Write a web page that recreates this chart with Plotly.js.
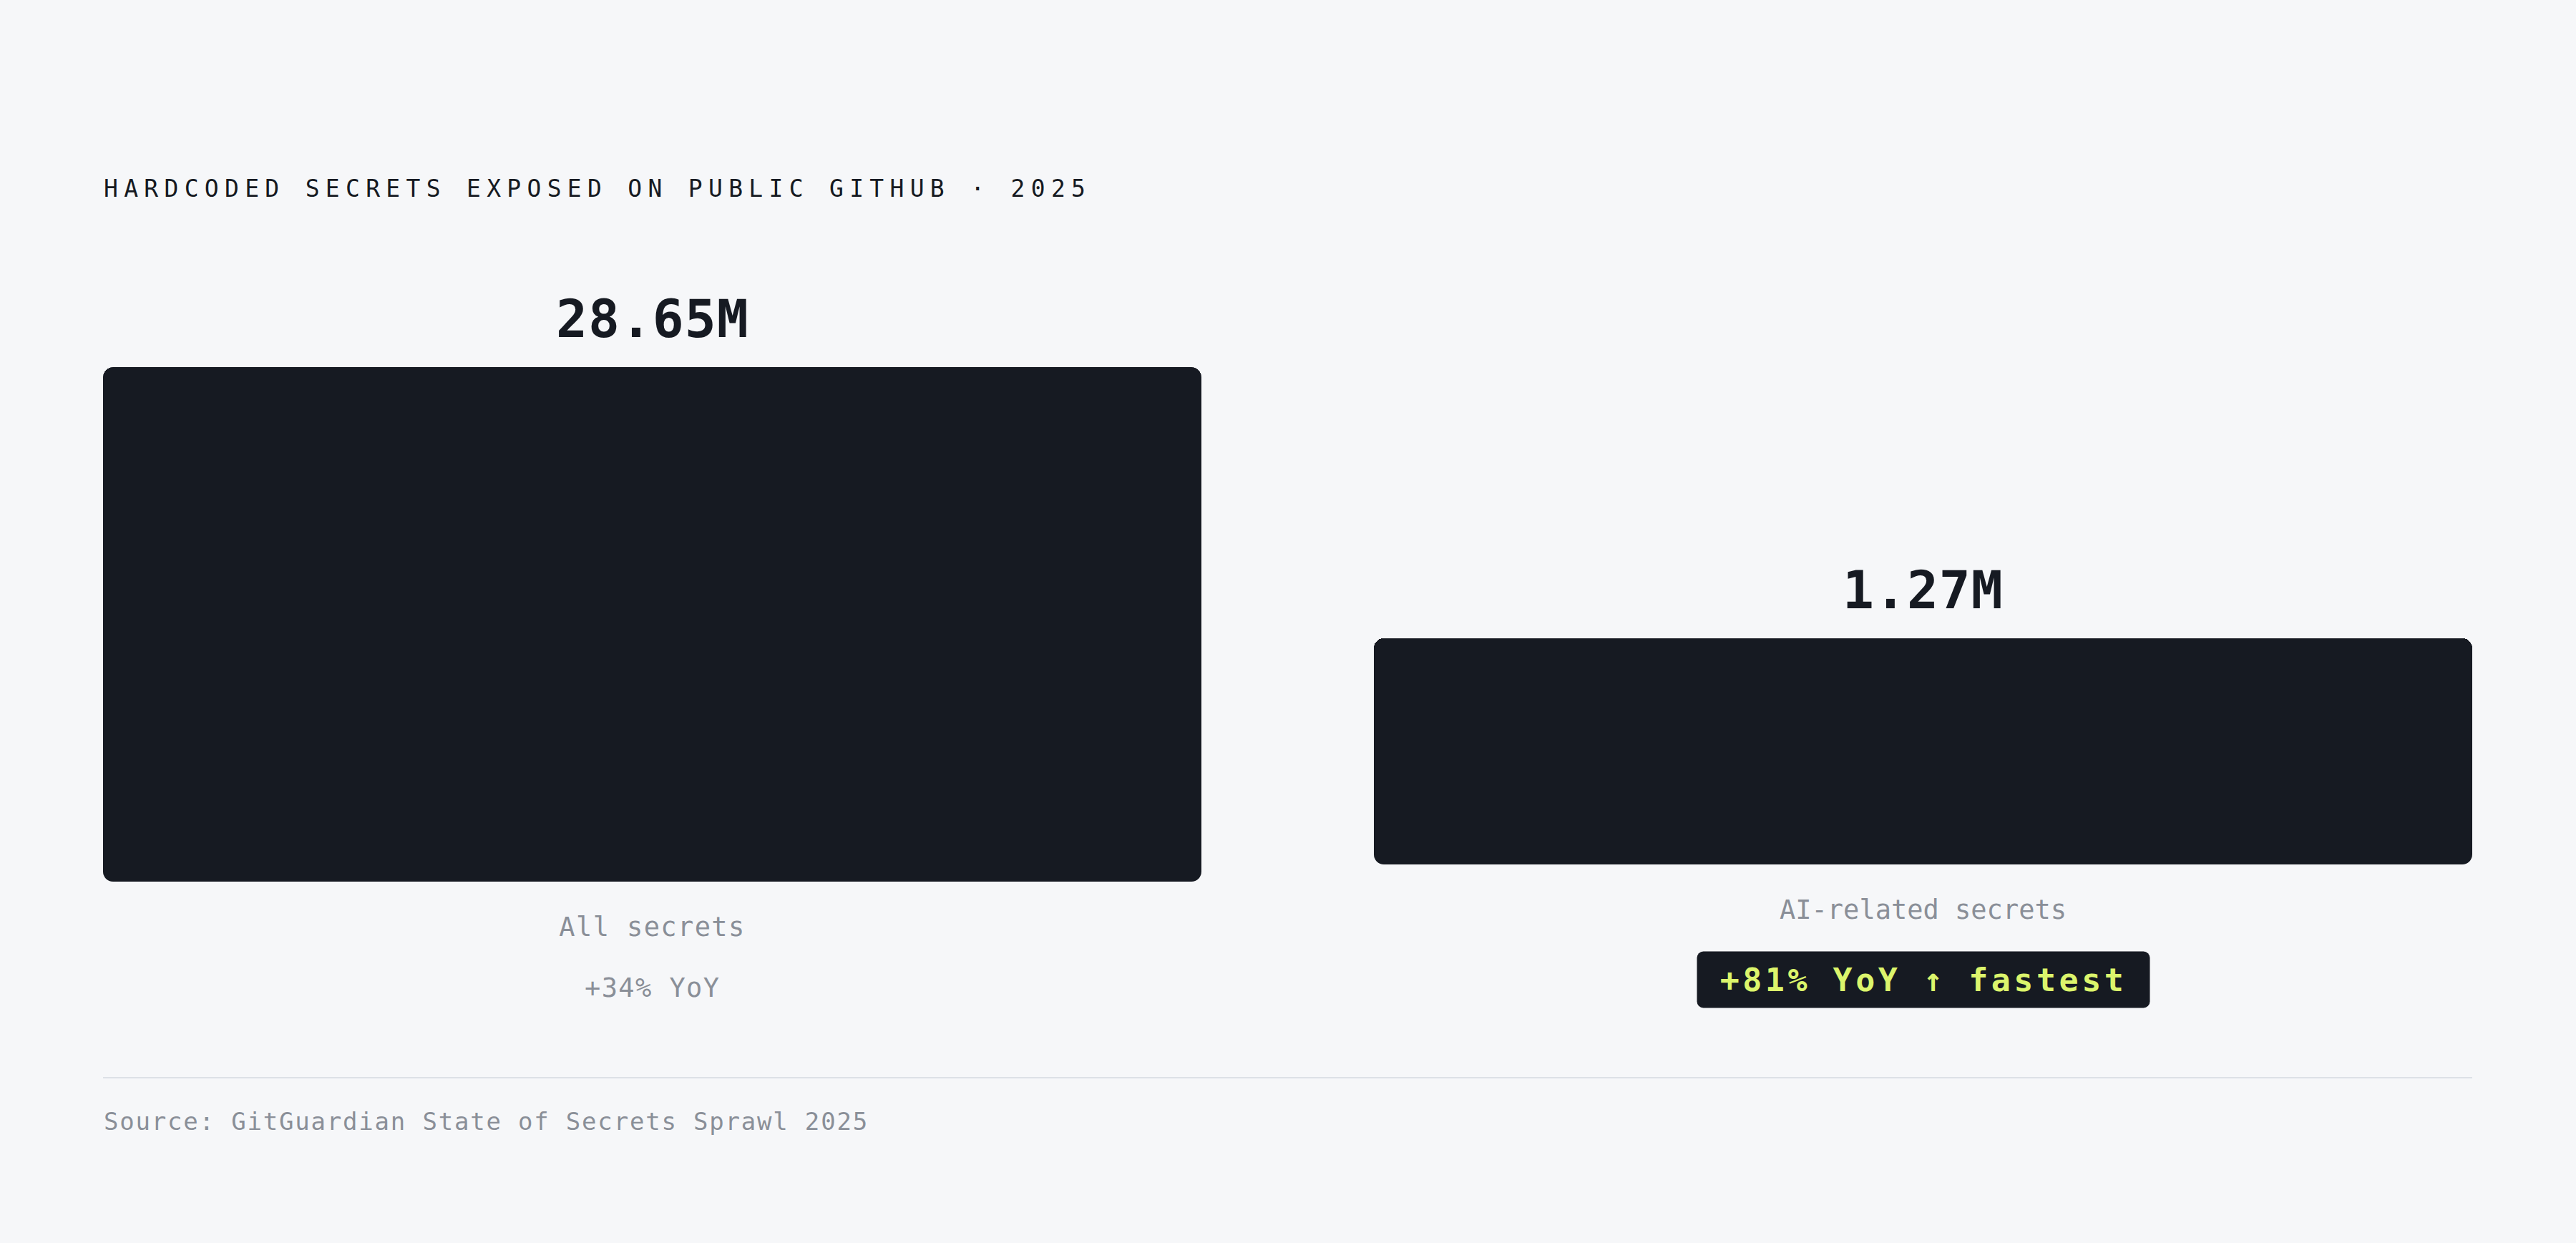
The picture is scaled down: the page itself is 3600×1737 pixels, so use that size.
<!DOCTYPE html>
<html>
<head>
<meta charset="utf-8">
<script src="https://cdn.plot.ly/plotly-3.0.1.min.js"></script>
<style>
  html, body { margin: 0; padding: 0; background: #f6f7f9; }
  /* round the bottom corners of each bar through its subplot clip */
  .clips rect { rx: 14px; ry: 14px; }
  .annotation .bg { rx: 9px; ry: 9px; }
  .xtick text { letter-spacing: 1.4px; }
</style>
</head>
<body>
<div id="chart"></div>
<script>
// Hardcoded secrets exposed on public GitHub, 2025
var categories = ['All secrets', 'AI-related secrets'];
var secrets = [28650000, 1270000];
var yoy_growth = [34, 81];

var chart_title = 'HARDCODED SECRETS EXPOSED ON PUBLIC GITHUB · 2025';
var source_note = 'Source: GitGuardian State of Secrets Sprawl 2025';

var W = 3600, H = 1737;
var FONT = '"DejaVu Sans Mono", monospace';
var DARK = '#161a22', GRAY = '#8a8f98', LIME = '#dcf56c';

function px(x) { return x / W; }
function py(y) { return 1 - y / H; }
function spaced(t, s) { return '<span style="letter-spacing:' + s + 'px">' + t + '</span>'; }

// one subplot per bar, same log scale for both
var log_range = [Math.log10(1.1e5), Math.log10(Math.max.apply(null, secrets))];
var x_domains = [[px(144), px(1679)], [px(1920), px(3455)]];
var y_domains = [[py(1232), py(513)], [py(1208), py(489)]];
var fastest = yoy_growth.indexOf(Math.max.apply(null, yoy_growth));

var data = [];
var annotations = [];
var layout = {
  width: W, height: H,
  margin: {l: 0, r: 0, t: 0, b: 0},
  paper_bgcolor: '#f6f7f9',
  plot_bgcolor: 'rgba(0,0,0,0)',
  showlegend: false,
  bargap: 0,
  font: {family: FONT, color: DARK},
  title: {
    text: spaced(chart_title, 8.3),
    font: {family: FONT, size: 33, color: DARK},
    xref: 'paper', x: px(145), xanchor: 'left',
    yref: 'container', y: py(263), yanchor: 'middle'
  },
  shapes: [{
    type: 'line', xref: 'paper', yref: 'paper',
    x0: px(144), x1: px(3455), y0: py(1506), y1: py(1506),
    line: {color: '#dde1e7', width: 2}
  }]
};

for (var i = 0; i < secrets.length; i++) {
  var n = i === 0 ? '' : String(i + 1);
  data.push({
    type: 'bar',
    x: [categories[i]],
    y: [secrets[i]],
    xaxis: 'x' + n, yaxis: 'y' + n,
    marker: {color: DARK, cornerradius: 14},
    hoverinfo: 'skip'
  });
  layout['xaxis' + n] = {
    domain: x_domains[i], anchor: 'y' + n,
    type: 'category', range: [-0.5, 0.5],
    showgrid: false, zeroline: false, showline: false, ticks: '',
    ticklabelstandoff: 38,
    tickfont: {family: FONT, size: 37, color: GRAY},
    fixedrange: true
  };
  layout['yaxis' + n] = {
    domain: y_domains[i], anchor: 'x' + n,
    type: 'log', range: log_range, autorange: false,
    visible: false, fixedrange: true
  };

  // value above the bar
  annotations.push({
    xref: 'x' + n, yref: 'y' + n, x: 0, y: Math.log10(secrets[i]),
    xanchor: 'center', yanchor: 'bottom', yshift: 23, showarrow: false,
    text: spaced((secrets[i] / 1e6).toFixed(2) + 'M', 1),
    font: {family: FONT, size: 73, color: DARK, weight: 'bold'}
  });

  // growth line under the category label
  var cx = (x_domains[i][0] + x_domains[i][1]) / 2;
  var growth = '+' + yoy_growth[i] + '% YoY';
  if (i === fastest) {
    annotations.push({
      xref: 'paper', yref: 'paper', x: cx, y: py(1369),
      xanchor: 'center', yanchor: 'middle', showarrow: false,
      text: spaced(growth + ' ↑ fastest', 4.5),
      font: {family: FONT, size: 45, color: LIME, weight: 'bold'},
      bgcolor: DARK, borderpad: 0, width: 632, height: 78
    });
  } else {
    annotations.push({
      xref: 'paper', yref: 'paper', x: cx, y: py(1380),
      xanchor: 'center', yanchor: 'middle', showarrow: false,
      text: spaced(growth, 1.4),
      font: {family: FONT, size: 37, color: GRAY}
    });
  }
}

annotations.push({
  xref: 'paper', yref: 'paper', x: px(143), y: py(1567),
  xanchor: 'left', yanchor: 'middle', showarrow: false,
  text: spaced(source_note, 1.8),
  font: {family: FONT, size: 34, color: GRAY}
});
layout.annotations = annotations;

Plotly.newPlot('chart', data, layout, {staticPlot: true, displayModeBar: false});
</script>
</body>
</html>
